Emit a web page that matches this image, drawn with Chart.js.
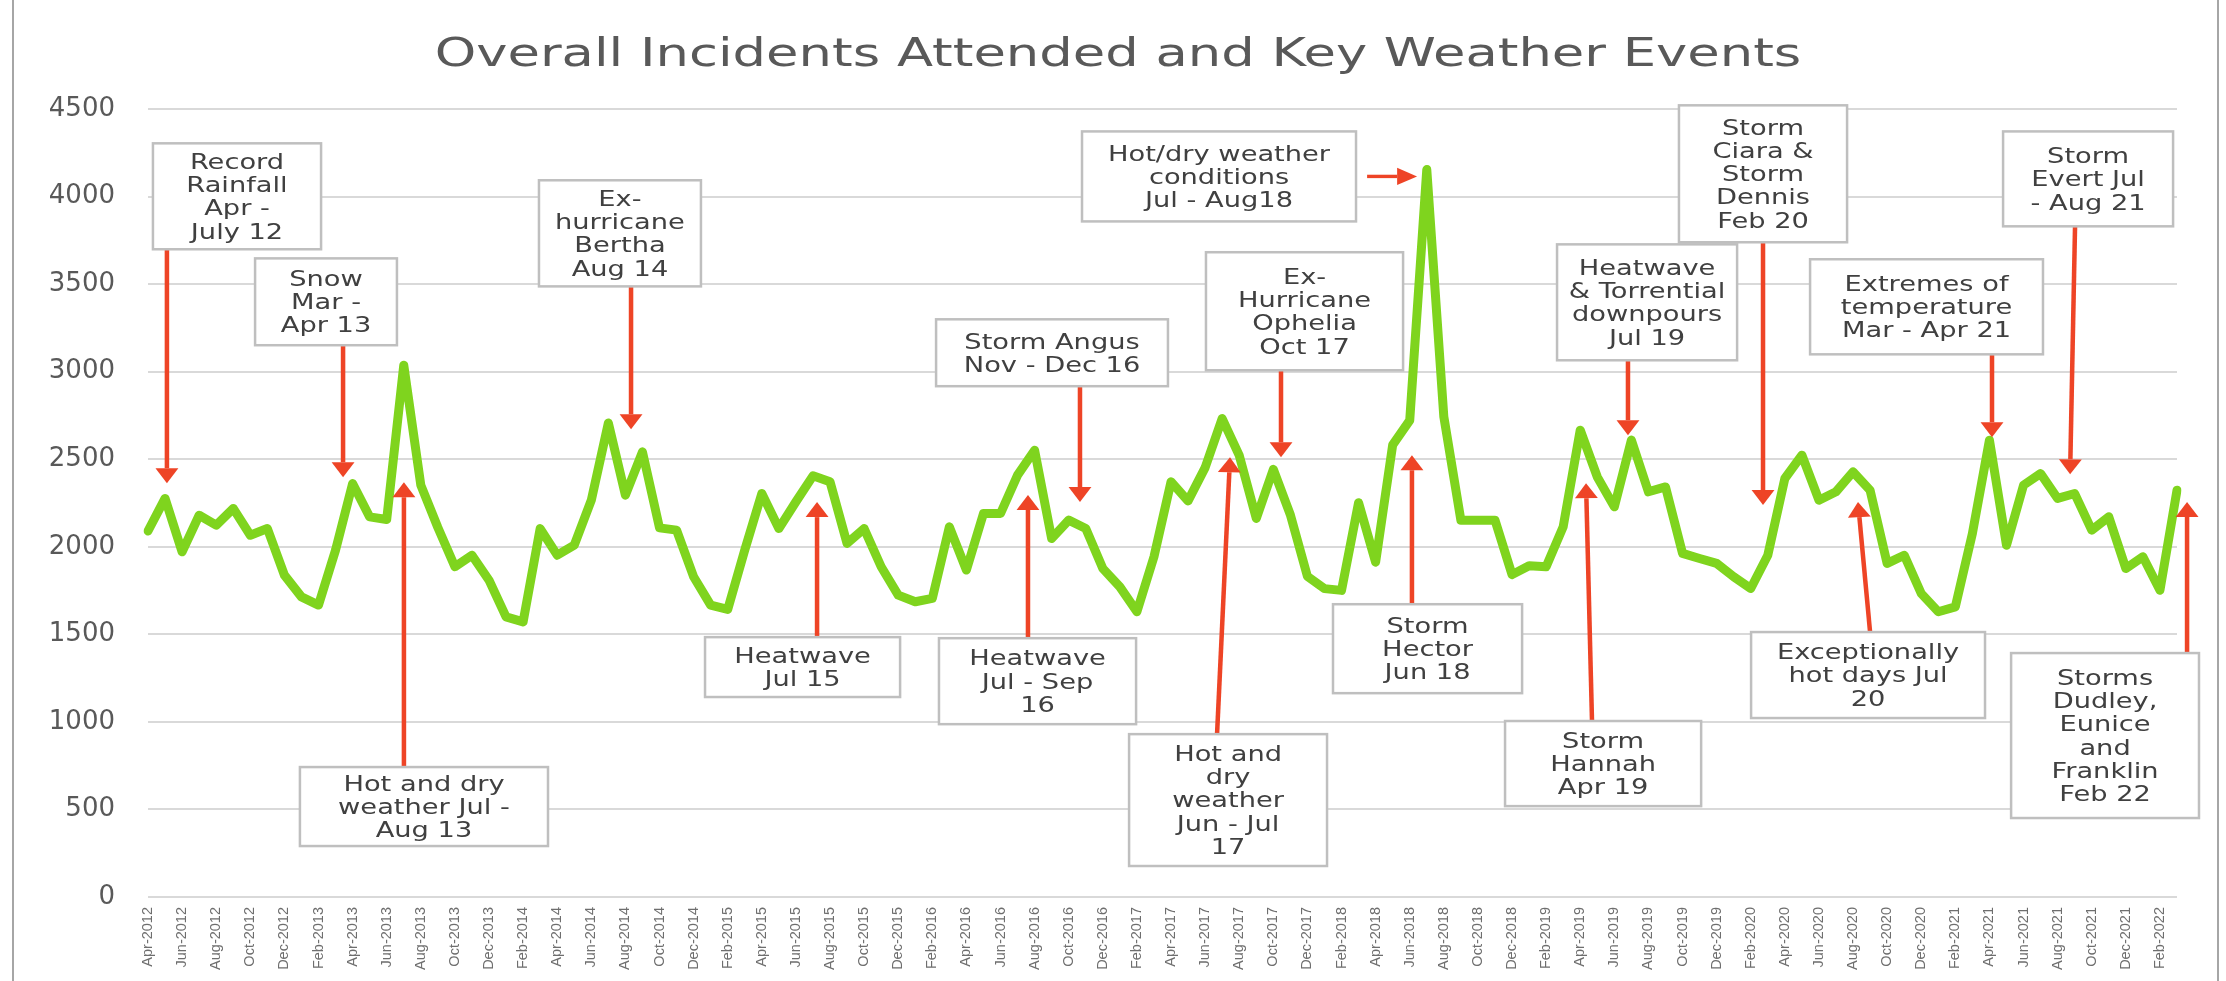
<!DOCTYPE html>
<html>
<head>
<meta charset="utf-8">
<script src="https://cdn.jsdelivr.net/npm/chart.js@4.4.1/dist/chart.umd.min.js"></script>
<style>
  html, body { margin: 0; padding: 0; background: #ffffff; }
  #wrap { width: 2226px; height: 981px; }
</style>
</head>
<body>
<div id="wrap"><canvas id="c" width="2226" height="981"></canvas></div>
<script>
// ---------- DATA ----------
const chartTitle = 'Overall Incidents Attended and Key Weather Events';

const months = [
  'Apr-2012','May-2012','Jun-2012','Jul-2012','Aug-2012','Sep-2012','Oct-2012','Nov-2012','Dec-2012',
  'Jan-2013','Feb-2013','Mar-2013','Apr-2013','May-2013','Jun-2013','Jul-2013','Aug-2013','Sep-2013','Oct-2013','Nov-2013','Dec-2013',
  'Jan-2014','Feb-2014','Mar-2014','Apr-2014','May-2014','Jun-2014','Jul-2014','Aug-2014','Sep-2014','Oct-2014','Nov-2014','Dec-2014',
  'Jan-2015','Feb-2015','Mar-2015','Apr-2015','May-2015','Jun-2015','Jul-2015','Aug-2015','Sep-2015','Oct-2015','Nov-2015','Dec-2015',
  'Jan-2016','Feb-2016','Mar-2016','Apr-2016','May-2016','Jun-2016','Jul-2016','Aug-2016','Sep-2016','Oct-2016','Nov-2016','Dec-2016',
  'Jan-2017','Feb-2017','Mar-2017','Apr-2017','May-2017','Jun-2017','Jul-2017','Aug-2017','Sep-2017','Oct-2017','Nov-2017','Dec-2017',
  'Jan-2018','Feb-2018','Mar-2018','Apr-2018','May-2018','Jun-2018','Jul-2018','Aug-2018','Sep-2018','Oct-2018','Nov-2018','Dec-2018',
  'Jan-2019','Feb-2019','Mar-2019','Apr-2019','May-2019','Jun-2019','Jul-2019','Aug-2019','Sep-2019','Oct-2019','Nov-2019','Dec-2019',
  'Jan-2020','Feb-2020','Mar-2020','Apr-2020','May-2020','Jun-2020','Jul-2020','Aug-2020','Sep-2020','Oct-2020','Nov-2020','Dec-2020',
  'Jan-2021','Feb-2021','Mar-2021','Apr-2021','May-2021','Jun-2021','Jul-2021','Aug-2021','Sep-2021','Oct-2021','Nov-2021','Dec-2021',
  'Jan-2022','Feb-2022','Mar-2022'
];

const incidents = [
  2090, 2276, 1971, 2180, 2123, 2219, 2066, 2104, 1838,
  1714, 1667, 1981, 2361, 2171, 2156, 3037, 2352, 2110, 1886, 1952, 1809,
  1600, 1571, 2104, 1952, 2009, 2266, 2707, 2295, 2542, 2108, 2095, 1829,
  1667, 1642, 1981, 2304, 2104, 2257, 2405, 2371, 2019, 2104, 1886, 1724,
  1686, 1705, 2114, 1867, 2190, 2190, 2409, 2551, 2047, 2152, 2104, 1876,
  1771, 1629, 1943, 2371, 2262, 2452, 2732, 2522, 2162, 2442, 2182, 1831,
  1761, 1751, 2252, 1912, 2582, 2722, 4154, 2742, 2152, 2152, 2152, 1841,
  1892, 1886, 2114, 2666, 2399, 2228, 2609, 2314, 2342, 1962, 1933, 1905,
  1829, 1762, 1952, 2390, 2523, 2266, 2314, 2428, 2323, 1905, 1952, 1733,
  1629, 1657, 2076, 2609, 2009, 2352, 2418, 2276, 2304, 2095, 2171, 1876,
  1943, 1752, 2323
];

const yTicks = { min: 0, max: 4500, step: 500 };

// Event labels (text content)
const eventText = [
  ['Record', 'Rainfall', 'Apr -', 'July 12'],
  ['Snow', 'Mar -', 'Apr 13'],
  ['Hot and dry', 'weather Jul -', 'Aug 13'],
  ['Ex-', 'hurricane', 'Bertha', 'Aug 14'],
  ['Heatwave', 'Jul 15'],
  ['Storm Angus', 'Nov - Dec 16'],
  ['Heatwave', 'Jul - Sep', '16'],
  ['Hot and', 'dry', 'weather', 'Jun - Jul', '17'],
  ['Hot/dry weather', 'conditions', 'Jul - Aug18'],
  ['Ex-', 'Hurricane', 'Ophelia', 'Oct 17'],
  ['Storm', 'Hector', 'Jun 18'],
  ['Heatwave', '& Torrential', 'downpours', 'Jul 19'],
  ['Storm', 'Hannah', 'Apr 19'],
  ['Storm', 'Ciara &', 'Storm', 'Dennis', 'Feb 20'],
  ['Exceptionally', 'hot days Jul', '20'],
  ['Extremes of', 'temperature', 'Mar - Apr 21'],
  ['Storm', 'Evert Jul', '- Aug 21'],
  ['Storms', 'Dudley,', 'Eunice', 'and', 'Franklin', 'Feb 22']
];

// ---------- LAYOUT of event boxes/arrows (in category-index / value units) ----------
// box: [leftIdx, rightIdx, topVal, bottomVal]; arrow: [fromIdx, fromVal, toIdx, toVal]
const eventLayout = [
  { box: [0.29, 10.15, 4304, 3699],  arrow: [1.11, 3699, 1.11, 2363] },
  { box: [6.28, 14.60, 3647, 3151],  arrow: [11.44, 3151, 11.44, 2397] },
  { box: [8.91, 23.46, 742, 291],    arrow: [15.01, 742, 15.01, 2369] },
  { box: [22.93, 32.43, 4093, 3487], arrow: [28.33, 3487, 28.33, 2671] },
  { box: [32.67, 44.11, 1484, 1142], arrow: [39.24, 1484, 39.24, 2255] },
  { box: [46.22, 59.82, 3299, 2917], arrow: [54.66, 2917, 54.66, 2255] },
  { box: [46.39, 57.95, 1478, 987],  arrow: [51.61, 1478, 51.61, 2295] },
  { box: [57.54, 69.15, 930, 177],   arrow: [62.70, 930, 63.46, 2511] },
  { box: [54.78, 70.85, 4372, 3858], arrow: [71.50, 4115, 74.43, 4115] },
  { box: [62.05, 73.61, 3682, 3008], arrow: [66.45, 3008, 66.45, 2511] },
  { box: [69.50, 80.59, 1672, 1164], arrow: [74.13, 1672, 74.13, 2523] },
  { box: [82.64, 93.20, 3727, 3065], arrow: [86.80, 3065, 86.80, 2637] },
  { box: [79.59, 91.09, 1005, 519],  arrow: [84.69, 1005, 84.34, 2363] },
  { box: [89.79, 99.65, 4521, 3739], arrow: [94.72, 3739, 94.72, 2238] },
  { box: [94.02, 107.74, 1513, 1022], arrow: [101.0, 1513, 100.29, 2255] },
  { box: [97.48, 111.14, 3642, 3099], arrow: [108.15, 3099, 108.15, 2626] },
  { box: [108.80, 118.77, 4372, 3830], arrow: [113.02, 3830, 112.73, 2414] },
  { box: [109.27, 120.29, 1393, 451], arrow: [119.59, 1393, 119.59, 2255] }
];

// ---------- STYLE ----------
const STRETCH = 1.33;
const TITLE_STRETCH = 1.37;
const FONT = '"DejaVu Sans", "Noto Sans", sans-serif';

function drawArrow(ctx, x1, y1, x2, y2) {
  const dx = (x2 - x1) / STRETCH, dy = y2 - y1;
  const len = Math.hypot(dx, dy) || 1;
  const ex = dx / len, ey = dy / len;
  const L = 15, W = 8.6, T = 3.4;
  const bx = x2 - ex * L * STRETCH, by = y2 - ey * L;
  const tx = -ey * (T / 2) * STRETCH, ty = ex * (T / 2);
  const hx = -ey * W * STRETCH, hy = ex * W;
  ctx.beginPath();
  ctx.moveTo(x1 + tx, y1 + ty);
  ctx.lineTo(bx + tx, by + ty);
  ctx.lineTo(bx - tx, by - ty);
  ctx.lineTo(x1 - tx, y1 - ty);
  ctx.closePath();
  ctx.fill();
  ctx.beginPath();
  ctx.moveTo(x2, y2);
  ctx.lineTo(bx + hx, by + hy);
  ctx.lineTo(bx - hx, by - hy);
  ctx.closePath();
  ctx.fill();
}

const eventsPlugin = {
  id: 'events',
  afterDatasetsDraw(chart) {
    const ctx = chart.ctx;
    const xs = chart.scales.x, ys = chart.scales.y;
    ctx.save();
    eventLayout.forEach((ev, k) => {
      const [i0, i1, vt, vb] = ev.box;
      const l = xs.getPixelForValue(i0), r = xs.getPixelForValue(i1);
      const t = ys.getPixelForValue(vt), b = ys.getPixelForValue(vb);
      const [ai, av, bi, bv] = ev.arrow;
      ctx.fillStyle = '#ee4426';
      drawArrow(ctx, xs.getPixelForValue(ai), ys.getPixelForValue(av), xs.getPixelForValue(bi), ys.getPixelForValue(bv));
      ctx.fillStyle = '#ffffff';
      ctx.fillRect(l, t, r - l, b - t);
      ctx.strokeStyle = '#bfbfbf';
      ctx.lineWidth = 2.5;
      ctx.strokeRect(l, t, r - l, b - t);
      const lines = eventText[k];
      const lh = 23.3;
      const cx = (l + r) / 2, cy = (t + b) / 2;
      ctx.fillStyle = '#404040';
      ctx.font = '20.5px ' + FONT;
      ctx.textAlign = 'center';
      ctx.textBaseline = 'alphabetic';
      lines.forEach((s, j) => {
        const lc = cy + (j - (lines.length - 1) / 2) * lh;
        ctx.save();
        ctx.translate(cx, lc + 7.4);
        ctx.scale(STRETCH, 1);
        ctx.fillText(s, 0, 0);
        ctx.restore();
      });
    });
    ctx.restore();
  },
  afterDraw(chart) {
    const ctx = chart.ctx;
    ctx.save();
    ctx.font = '38.5px ' + FONT;
    ctx.fillStyle = '#595959';
    ctx.textAlign = 'center';
    ctx.textBaseline = 'alphabetic';
    ctx.translate(1118, 66);
    ctx.scale(TITLE_STRETCH, 1);
    ctx.fillText(chartTitle, 0, 0);
    ctx.restore();
    ctx.save();
    ctx.strokeStyle = '#a6a6a6';
    ctx.lineWidth = 2;
    ctx.beginPath();
    ctx.moveTo(13, 0); ctx.lineTo(13, 981);
    ctx.moveTo(2218, 0); ctx.lineTo(2218, 981);
    ctx.stroke();
    ctx.restore();
  }
};

const bgPlugin = {
  id: 'bg',
  beforeDraw(chart) {
    const ctx = chart.ctx;
    ctx.save();
    ctx.fillStyle = '#ffffff';
    ctx.fillRect(0, 0, chart.width, chart.height);
    ctx.restore();
  }
};

new Chart(document.getElementById('c'), {
  type: 'line',
  data: {
    labels: months,
    datasets: [{
      label: 'Incidents attended',
      data: incidents,
      borderColor: '#7fd41e',
      backgroundColor: '#7fd41e',
      borderWidth: 9,
      pointRadius: 0,
      pointHoverRadius: 0,
      tension: 0,
      borderJoinStyle: 'round',
      borderCapStyle: 'round',
      fill: false
    }]
  },
  options: {
    responsive: false,
    animation: false,
    devicePixelRatio: 1,
    layout: { padding: { top: 109, right: 49, left: 0, bottom: 0 } },
    plugins: {
      legend: { display: false },
      title: { display: false },
      tooltip: { enabled: false }
    },
    scales: {
      x: {
        type: 'category',
        offset: false,
        grid: { display: false, drawTicks: false },
        border: { display: false },
        ticks: {
          autoSkip: false,
          minRotation: 90,
          maxRotation: 90,
          padding: 10,
          color: '#6e6e6e',
          font: { family: '"Liberation Sans", Arial, sans-serif', size: 14.5 },
          callback: function (val, idx) { return idx % 2 === 0 ? months[idx] : ''; }
        },
        afterFit(scale) { scale.height = 84; }
      },
      y: {
        min: yTicks.min,
        max: yTicks.max,
        grid: { color: '#d9d9d9', lineWidth: 2, drawTicks: false },
        border: { display: false },
        ticks: {
          stepSize: yTicks.step,
          padding: 33,
          color: '#595959',
          font: { family: FONT, size: 26 },
          callback: function (v) { return String(v); }
        },
        afterFit(scale) { scale.width = 148; }
      }
    }
  },
  plugins: [bgPlugin, eventsPlugin]
});
</script>
</body>
</html>
